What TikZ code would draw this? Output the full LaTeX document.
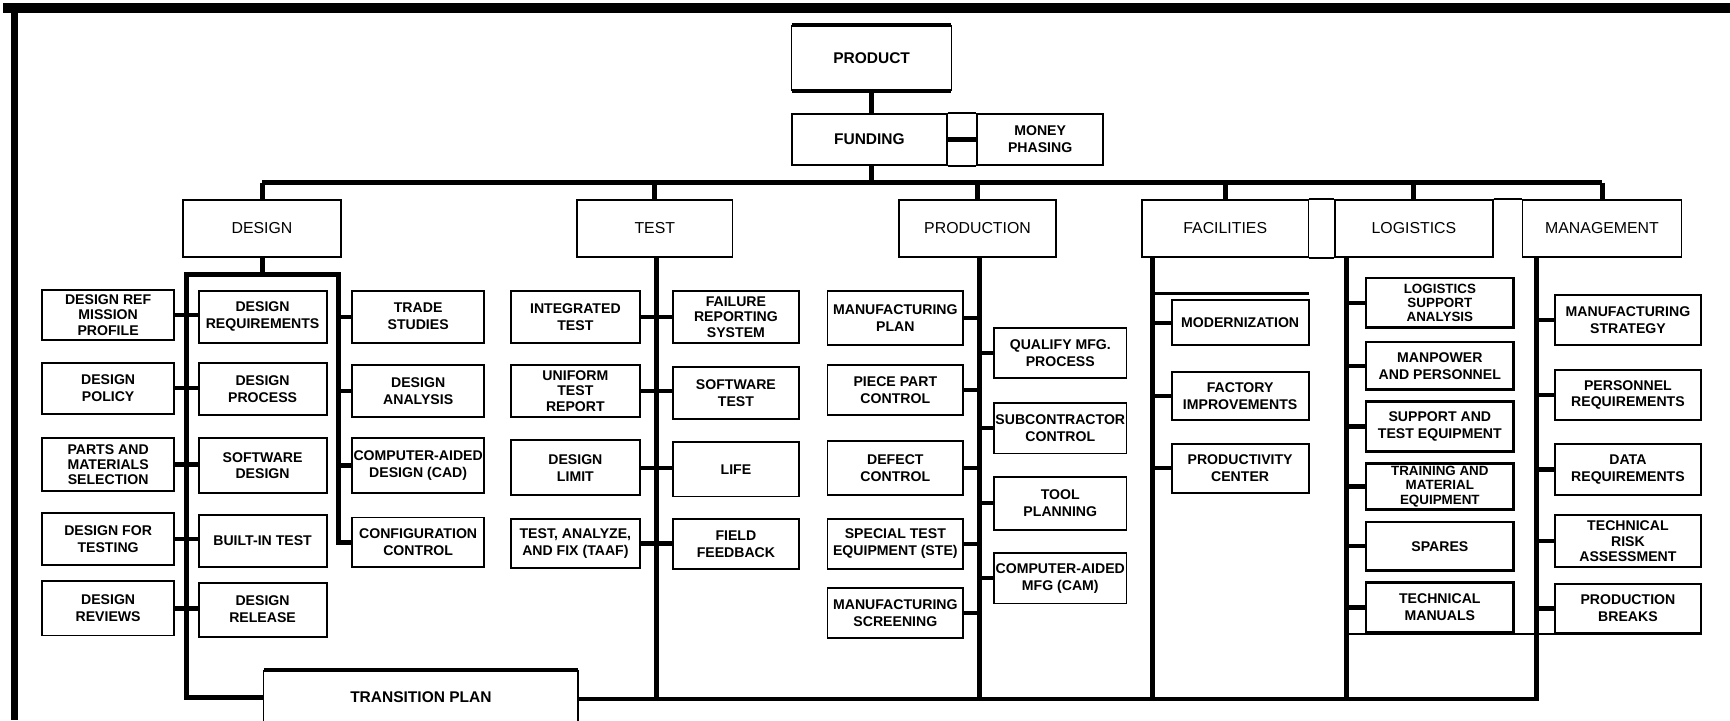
\documentclass[tikz,border=0pt]{standalone}
\usepackage{fontspec}
\setmainfont{Liberation Sans}
\usetikzlibrary{positioning}

\newcommand{\pxu}{0.022cm}
\newcommand{\itemfont}{\fontsize{8}{9.6}\selectfont\bfseries}
\newcommand{\trifont}{\fontsize{8}{8.7}\selectfont\bfseries}
\newcommand{\smallfont}{\fontsize{7.6}{8.1}\selectfont\bfseries}
\newcommand{\headfont}{\fontsize{9}{11}\selectfont}
\newcommand{\topfont}{\fontsize{8.8}{11}\selectfont\bfseries}

\begin{document}
\begin{tikzpicture}[
    x=\pxu, y=-\pxu,
    item/.style={
        rectangle,
        draw=black,
        line width=1.1pt,
        align=center,
        inner sep=0pt,
        minimum height=47*\pxu,
        font=\itemfont
    },
    tri/.style={
        item,
        font=\trifont
    },
    head/.style={
        rectangle,
        draw=black,
        line width=0.9pt,
        align=center,
        inner sep=0pt,
        minimum height=52*\pxu,
        font=\headfont
    },
    wd/.style={minimum width=#1*\pxu},
    ht/.style={minimum height=#1*\pxu},
    bar/.style={line width=3.2pt},
    bus/.style={line width=2.8pt},
    stub/.style={line width=2.4pt},
    rule/.style={line width=2pt},
    hair/.style={line width=0.7pt},
    border/.style={line width=#1}
]
\useasboundingbox (0,0) rectangle (1568,653);

% =========================================================
% Page border
% =========================================================
\draw[border=6pt] (3,7.2) -- (1568,7.2);
\draw[border=4.2pt] (13,7.2) -- (13,653);

% =========================================================
% Product and funding
% =========================================================
\node[item, draw=none, wd=143, ht=58, font=\topfont] (product) at (790,52.5)
{PRODUCT};

\node[item, wd=140, ht=46, font=\topfont] (funding) at (788,126.5)
{FUNDING};

\node[item, wd=114.5, ht=46] (money) at (942.75,126.5)
{MONEY\\PHASING};

\draw[rule] (product.north west) -- (product.north east);
\draw[rule] (product.south west) -- (product.south east);
\draw[hair] (product.north west) -- (product.south west);
\draw[hair] (product.north east) -- (product.south east);

\draw[item] (funding.north east) -- (money.north west);
\draw[item] (funding.south east) -- (money.south west);
\draw[stub] (funding.east) -- (money.west);

% =========================================================
% Main headings
% =========================================================
\coordinate (busline) at (0,165.5);

\node[head, wd=143] (design) at (237.5,207) {DESIGN};
\node[head, wd=141] (test) at (593.5,207) {TEST};
\node[head, wd=142] (production) at (886,207) {PRODUCTION};
\node[head, wd=151] (facilities) at (1110.5,207) {FACILITIES};
\node[head, wd=143] (logistics) at (1281.5,207) {LOGISTICS};
\node[head, wd=144] (management) at (1452,207) {MANAGEMENT};

\draw[head] (facilities.north east) -- (logistics.north west);
\draw[head] (facilities.south east) -- (logistics.south west);
\draw[head] (logistics.north east) -- (management.north west);

\draw[bus] (product.south) -- (product.south |- funding.north);
\draw[bus] (product.south |- funding.south) -- (product.south |- busline);
\draw[bar] (design.north |- busline) -- (management.north |- busline);

\draw[bus] (design.north |- busline) -- (design.north);
\draw[bus] (test.north |- busline) -- (test.north);
\draw[bus] (production.north |- busline) -- (production.north);
\draw[bus] (facilities.north |- busline) -- (facilities.north);
\draw[bus] (logistics.north |- busline) -- (logistics.north);
\draw[bus] (management.north |- busline) -- (management.north);

% =========================================================
% Column spines
% =========================================================
\coordinate (dsgL) at (169,248.5);
\coordinate (dsgR) at (307,248.5);
\coordinate (testv) at (595,233);
\coordinate (prodv) at (888,233);
\coordinate (facv) at (1044.5,233);
\coordinate (logv) at (1220.5,233);
\coordinate (mgtv) at (1393,233);
\coordinate (botline) at (0,633.5);
\coordinate (modtop) at (1186,266);

% =========================================================
% Design
% =========================================================
\node[tri, wd=120, ht=45] (dref) at (98,285.5) {DESIGN REF\\MISSION\\PROFILE};
\node[item, wd=120, ht=46] (dpol) at (98,352) {DESIGN\\POLICY};
\node[tri, wd=120, ht=48] (parts) at (98,421) {PARTS AND\\MATERIALS\\SELECTION};
\node[item, wd=120] (dft) at (98,488.5) {DESIGN FOR\\TESTING};
\node[item, wd=120, ht=49] (drev) at (98,551.5) {DESIGN\\REVIEWS};

\node[item, wd=116] (dreq) at (238,287) {DESIGN\\REQUIREMENTS};
\node[item, wd=116] (dproc) at (238,352.5) {DESIGN\\PROCESS};
\node[item, wd=116, ht=50] (swd) at (238,422) {SOFTWARE\\DESIGN};
\node[item, wd=116] (bit) at (238,490) {BUILT-IN TEST};
\node[item, wd=116, ht=49] (drel) at (238,552.5) {DESIGN\\RELEASE};

\node[item, wd=120] (trade) at (379,287) {TRADE\\STUDIES};
\node[item, wd=120] (dana) at (379,354.5) {DESIGN\\ANALYSIS};
\node[item, wd=120, ht=50] (cad) at (379,422) {COMPUTER-AIDED\\DESIGN (CAD)};
\node[item, wd=120, ht=45] (config) at (379,491.5) {CONFIGURATION\\CONTROL};

\draw[bus] (design.south) -- (design.south |- dsgL);

\draw[stub] (dref.east) -- (dref.east -| dreq.west);
\draw[stub] (dpol.east) -- (dpol.east -| dproc.west);
\draw[stub] (parts.east) -- (parts.east -| swd.west);
\draw[stub] (dft.east) -- (dft.east -| bit.west);
\draw[stub] (drev.east) -- (drev.east -| drel.west);
\draw[stub] (trade.west -| dsgR) -- (trade.west);
\draw[stub] (dana.west -| dsgR) -- (dana.west);
\draw[stub] (cad.west -| dsgR) -- (cad.west);

% =========================================================
% Test
% =========================================================
\node[item, wd=117] (itest) at (521.5,287.5) {INTEGRATED\\TEST};
\node[tri, wd=117] (utr) at (521.5,354.5) {UNIFORM\\TEST\\REPORT};
\node[item, wd=117, ht=50] (dlim) at (521.5,424) {DESIGN\\LIMIT};
\node[item, wd=117, ht=45] (taaf) at (521.5,492.5) {TEST, ANALYZE,\\AND FIX (TAAF)};

\node[tri, wd=114] (frs) at (667,287.5) {FAILURE\\REPORTING\\SYSTEM};
\node[item, wd=114] (swt) at (667,356.5) {SOFTWARE\\TEST};
\node[item, wd=114, ht=49] (life) at (667,425.5) {LIFE};
\node[item, wd=114, ht=46] (ffb) at (667,493) {FIELD\\FEEDBACK};

\draw[stub] (itest.east) -- (itest.east -| frs.west);
\draw[stub] (utr.east) -- (utr.east -| swt.west);
\draw[stub] (dlim.east) -- (dlim.east -| life.west);
\draw[stub] (taaf.east) -- (taaf.east -| ffb.west);

% =========================================================
% Production
% =========================================================
\node[item, wd=123, ht=49] (mplan) at (811.5,288.5) {MANUFACTURING\\PLAN};
\node[item, wd=123, ht=45] (ppc) at (811.5,353.5) {PIECE PART\\CONTROL};
\node[item, wd=123, ht=49] (defect) at (811.5,424.5) {DEFECT\\CONTROL};
\node[item, wd=123, ht=46] (ste) at (811.5,493) {SPECIAL TEST\\EQUIPMENT (STE)};
\node[item, wd=123, ht=45] (mscr) at (811.5,555.5) {MANUFACTURING\\SCREENING};

\node[item, wd=120, ht=46] (qmp) at (961,320) {QUALIFY MFG.\\PROCESS};
\node[item, wd=120, ht=46] (subc) at (961,388) {SUBCONTRACTOR\\CONTROL};
\node[item, wd=120, ht=48] (tool) at (961,456) {TOOL\\PLANNING};
\node[item, wd=120, ht=46] (cam) at (961,524) {COMPUTER-AIDED\\MFG (CAM)};

\draw[stub] (mplan.east) -- (mplan.east -| prodv);
\draw[stub] (ppc.east) -- (ppc.east -| prodv);
\draw[stub] (defect.east) -- (defect.east -| prodv);
\draw[stub] (ste.east) -- (ste.east -| prodv);
\draw[stub] (mscr.east) -- (mscr.east -| prodv);
\draw[stub] (qmp.west -| prodv) -- (qmp.west);
\draw[stub] (subc.west -| prodv) -- (subc.west);
\draw[stub] (tool.west -| prodv) -- (tool.west);
\draw[stub] (cam.west -| prodv) -- (cam.west);

% =========================================================
% Facilities
% =========================================================
\node[item, wd=124, ht=41] (modern) at (1124,292.5) {MODERNIZATION};
\node[item, wd=124, ht=44] (factory) at (1124,359) {FACTORY\\IMPROVEMENTS};
\node[item, wd=124, ht=45] (pcenter) at (1124,424.5) {PRODUCTIVITY\\CENTER};

\draw[rule] (modtop -| facv) -- (modtop);
\draw[stub] (modern.west -| facv) -- (modern.west);
\draw[stub] (factory.west -| facv) -- (factory.west);
\draw[stub] (pcenter.west -| facv) -- (pcenter.west);

% =========================================================
% Logistics
% =========================================================
\node[tri, wd=134, ht=45, line width=1.5pt, font=\smallfont] (lsa) at (1305,274.5) {LOGISTICS\\SUPPORT\\ANALYSIS};
\node[item, wd=134, ht=43, line width=1.5pt] (manp) at (1305,331.5) {MANPOWER\\AND PERSONNEL};
\node[item, wd=134, ht=45, line width=1.5pt] (supp) at (1305,386.5) {SUPPORT AND\\TEST EQUIPMENT};
\node[tri, wd=134, ht=42, line width=1.5pt, font=\smallfont] (train) at (1305,441) {TRAINING AND\\MATERIAL\\EQUIPMENT};
\node[item, wd=134, ht=44, line width=1.5pt] (spares) at (1305,495) {SPARES};
\node[item, wd=134, ht=45, line width=1.5pt] (techm) at (1305,550.5) {TECHNICAL\\MANUALS};

\draw[stub] (lsa.west -| logv) -- (lsa.west);
\draw[stub] (manp.west -| logv) -- (manp.west);
\draw[stub] (supp.west -| logv) -- (supp.west);
\draw[stub] (train.west -| logv) -- (train.west);
\draw[stub] (spares.west -| logv) -- (spares.west);
\draw[stub] (techm.west -| logv) -- (techm.west);

% =========================================================
% Management
% =========================================================
\node[item, wd=133, ht=46] (mstrat) at (1475.5,290) {MANUFACTURING\\STRATEGY};
\node[item, wd=133, ht=46] (preq) at (1475.5,358) {PERSONNEL\\REQUIREMENTS};
\node[item, wd=133] (datareq) at (1475.5,425.5) {DATA\\REQUIREMENTS};
\node[tri, wd=133] (risk) at (1475.5,490.5) {TECHNICAL\\RISK\\ASSESSMENT};
\node[item, wd=133, ht=45] (pbreaks) at (1475.5,551.5) {PRODUCTION\\BREAKS};

\draw[stub] (mstrat.west -| mgtv) -- (mstrat.west);
\draw[stub] (preq.west -| mgtv) -- (preq.west);
\draw[stub] (datareq.west -| mgtv) -- (datareq.west);
\draw[stub] (risk.west -| mgtv) -- (risk.west);
\draw[stub] (pbreaks.west -| mgtv) -- (pbreaks.west);

\draw[hair, line width=1.1pt] (techm.south -| logv) -- (techm.south -| pbreaks.east);

% =========================================================
% Transition plan and bottom return
% =========================================================
\node[item, draw=none, wd=283, ht=48, font=\topfont] (trans) at (381.5,632)
{TRANSITION PLAN};

\draw[rule] (trans.north west) -- (trans.north east);
\draw[hair] (trans.north west) -- (trans.south west);
\draw[hair] (trans.north east) -- (trans.south east);

\draw[bus] (config.west) -| (dsgR) -- (dsgL) -- (dsgL |- trans.west) -- (trans.west);
\draw[bus] (trans.east |- botline) -| (mgtv);
\draw[bus] (testv) -- (testv |- botline);
\draw[bus] (prodv) -- (prodv |- botline);
\draw[bus] (facv) -- (facv |- botline);
\draw[bus] (logv) -- (logv |- botline);

\end{tikzpicture}
\end{document}
